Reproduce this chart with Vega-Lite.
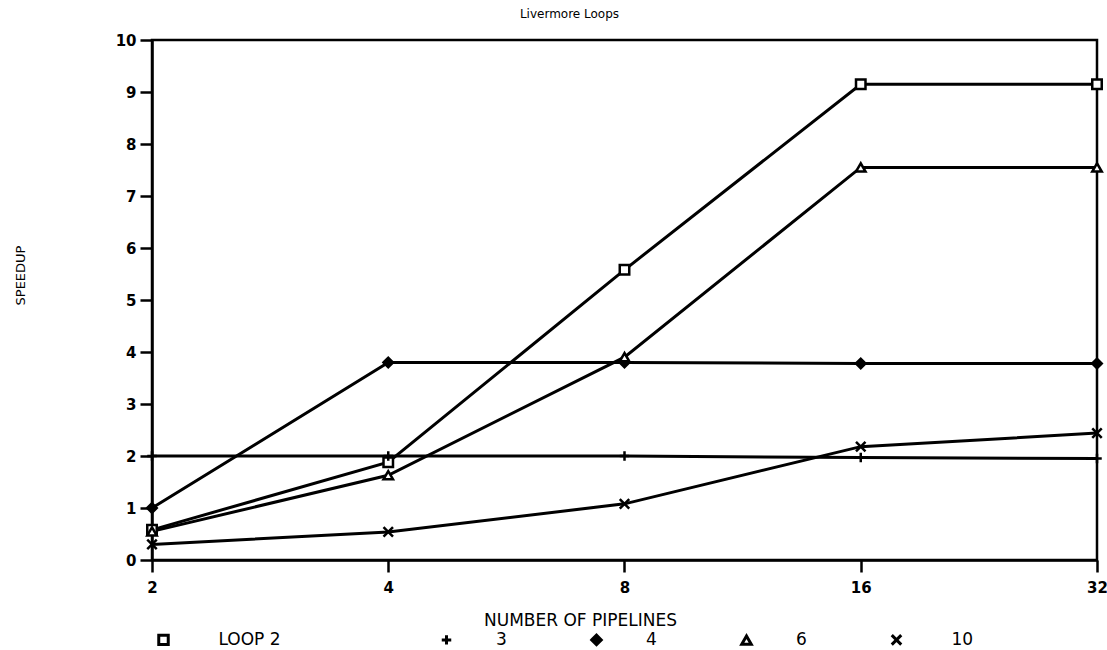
{
  "$schema": "https://vega.github.io/schema/vega-lite/v6.json",
  "width": 945,
  "height": 520,
  "autosize": "none",
  "padding": {"left": 152, "top": 40, "right": 10, "bottom": 90},
  "background": "white",
  "config": {
    "view": {"stroke": "black", "strokeWidth": 2.5},
    "font": "DejaVu Sans",
    "axis": {"grid": false, "domainColor": "black", "domainWidth": 2.5, "tickColor": "black", "tickWidth": 2.5, "tickSize": 12, "labelColor": "black", "titleColor": "black", "titleFontWeight": "normal", "labelFontWeight": "bold"}
  },
  "title": {"text": "Livermore Loops", "fontSize": 12, "fontWeight": "normal", "color": "black", "dx": -55, "offset": 12},
  "data": {"values": [
    {"pipelines": 2, "loop": "LOOP 2", "speedup": 0.58},
    {"pipelines": 4, "loop": "LOOP 2", "speedup": 1.88},
    {"pipelines": 8, "loop": "LOOP 2", "speedup": 5.58},
    {"pipelines": 16, "loop": "LOOP 2", "speedup": 9.15},
    {"pipelines": 32, "loop": "LOOP 2", "speedup": 9.15},
    {"pipelines": 2, "loop": "3", "speedup": 2.0},
    {"pipelines": 4, "loop": "3", "speedup": 2.0},
    {"pipelines": 8, "loop": "3", "speedup": 2.0},
    {"pipelines": 16, "loop": "3", "speedup": 1.97},
    {"pipelines": 32, "loop": "3", "speedup": 1.95},
    {"pipelines": 2, "loop": "4", "speedup": 1.0},
    {"pipelines": 4, "loop": "4", "speedup": 3.8},
    {"pipelines": 8, "loop": "4", "speedup": 3.8},
    {"pipelines": 16, "loop": "4", "speedup": 3.78},
    {"pipelines": 32, "loop": "4", "speedup": 3.78},
    {"pipelines": 2, "loop": "6", "speedup": 0.55},
    {"pipelines": 4, "loop": "6", "speedup": 1.63},
    {"pipelines": 8, "loop": "6", "speedup": 3.9},
    {"pipelines": 16, "loop": "6", "speedup": 7.55},
    {"pipelines": 32, "loop": "6", "speedup": 7.55},
    {"pipelines": 2, "loop": "10", "speedup": 0.3},
    {"pipelines": 4, "loop": "10", "speedup": 0.54},
    {"pipelines": 8, "loop": "10", "speedup": 1.08},
    {"pipelines": 16, "loop": "10", "speedup": 2.18},
    {"pipelines": 32, "loop": "10", "speedup": 2.44}
  ]},
  "encoding": {
    "x": {"field": "pipelines", "type": "quantitative",
      "scale": {"type": "log", "base": 2, "domain": [2, 32], "nice": false},
      "axis": {"values": [2, 4, 8, 16, 32], "labelExpr": "datum.value", "labelFontSize": 15, "labelPadding": 8, "labelFlush": false,
        "title": "NUMBER OF PIPELINES", "titleFontSize": 17, "titleX": 428, "titleY": 52, "titleBaseline": "top", "titleAnchor": "middle"}},
    "y": {"field": "speedup", "type": "quantitative",
      "scale": {"domain": [0, 10], "nice": false},
      "axis": {"values": [0, 1, 2, 3, 4, 5, 6, 7, 8, 9, 10], "labelFontSize": 15, "labelPadding": 4,
        "title": "SPEEDUP", "titleFontSize": 13, "titleX": -132, "titleY": 235, "titleAngle": -90, "titleBaseline": "middle", "titleAnchor": "middle"}}
  },
  "layer": [
    {
      "mark": {"type": "line", "stroke": "black", "strokeWidth": 3},
      "encoding": {"detail": {"field": "loop"}}
    },
    {
      "mark": {"type": "point", "filled": false, "color": "black", "strokeWidth": 2.5, "size": 90, "opacity": 1},
      "encoding": {
        "shape": {"field": "loop", "type": "nominal",
          "scale": {"domain": ["LOOP 2", "3", "4", "6", "10"], "range": ["square", "M-1,0H1M0,-1V1", "diamond", "triangle-up", "M-1,-1L1,1M-1,1L1,-1"]},
          "legend": {"orient": "none", "legendX": 3, "legendY": 591, "direction": "horizontal", "columns": 5, "title": null,
            "symbolSize": 90, "symbolStrokeWidth": 3, "labelFontSize": 17, "labelOffset": 41, "columnPadding": 78, "padding": 0, "labelColor": "black", "labelLimit": 400,
            "labelExpr": "datum.label == 'LOOP 2' ? '\u200b\u00a0LOOP 2\u00a0\u00a0\u00a0\u00a0\u00a0\u00a0\u00a0\u00a0\u00a0\u00a0\u00a0\u00a0\u00a0\u00a0\u200b' : datum.label == '10' ? '\u200b\u00a010' : datum.label"}},
        "fill": {"field": "loop", "type": "nominal",
          "scale": {"domain": ["LOOP 2", "3", "4", "6", "10"], "range": ["white", "black", "black", "white", "black"]},
          "legend": null}
      }
    }
  ]
}
